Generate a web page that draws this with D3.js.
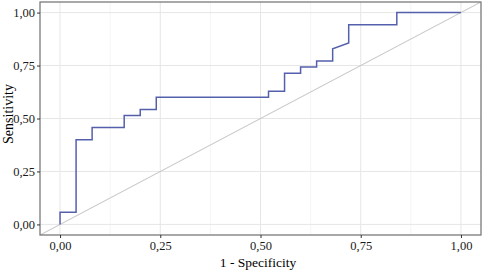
<!DOCTYPE html>
<html>
<head>
<meta charset="utf-8">
<script src="https://cdn.jsdelivr.net/npm/d3@7"></script>
<style>
  body { margin: 0; background: #fff; }
  svg { display: block; }
  text { font-family: "Liberation Serif", "DejaVu Serif", "Times New Roman", serif; }
</style>
</head>
<body>
<svg id="chart" width="484" height="273"></svg>
<script>
// ROC curve vertices (1 - specificity, sensitivity)
const fpr = [0, 0, 0.04, 0.04, 0.08, 0.08, 0.16, 0.16, 0.20, 0.20, 0.24, 0.24,
             0.52, 0.52, 0.56, 0.56, 0.60, 0.60, 0.64, 0.64, 0.68, 0.68, 0.72, 0.72,
             0.84, 0.84, 1.00];
const tpr = [0, 0.057, 0.057, 0.400, 0.400, 0.457, 0.457, 0.514, 0.514, 0.543, 0.543, 0.600,
             0.600, 0.629, 0.629, 0.714, 0.714, 0.743, 0.743, 0.771, 0.771, 0.829, 0.857, 0.943,
             0.943, 1.000, 1.000];
const majorTicks = [0, 0.25, 0.5, 0.75, 1];
const minorTicks = [0.125, 0.375, 0.625, 0.875];

const svg = d3.select("#chart");
const panel = {left: 40, top: 2, right: 481, bottom: 235};
const serif = "'Liberation Serif', 'DejaVu Serif', serif";

const x = d3.scaleLinear().domain([-0.05, 1.05]).range([panel.left, panel.right]);
const y = d3.scaleLinear().domain([-0.05, 1.05]).range([panel.bottom, panel.top]);
const fmt = d => d3.format(".2f")(d).replace(".", ",");

// gridlines
svg.append("g").selectAll("line.minor")
    .data(minorTicks).enter().append("line")
    .attr("x1", d => x(d)).attr("x2", d => x(d))
    .attr("y1", panel.top).attr("y2", panel.bottom)
    .attr("stroke", "#f2f2f2").attr("stroke-width", 0.8);

svg.append("g").selectAll("line.vmajor")
    .data(majorTicks).enter().append("line")
    .attr("x1", d => x(d)).attr("x2", d => x(d))
    .attr("y1", panel.top).attr("y2", panel.bottom)
    .attr("stroke", "#e6e6e6").attr("stroke-width", 1);

svg.append("g").selectAll("line.hmajor")
    .data(majorTicks).enter().append("line")
    .attr("x1", panel.left).attr("x2", panel.right)
    .attr("y1", d => y(d)).attr("y2", d => y(d))
    .attr("stroke", "#e6e6e6").attr("stroke-width", 1);

// clip for the reference diagonal
svg.append("clipPath").attr("id", "clip")
  .append("rect")
    .attr("x", panel.left).attr("y", panel.top)
    .attr("width", panel.right - panel.left).attr("height", panel.bottom - panel.top);

svg.append("line")
    .attr("clip-path", "url(#clip)")
    .attr("x1", x(-0.05)).attr("y1", y(-0.05))
    .attr("x2", x(1.05)).attr("y2", y(1.05))
    .attr("stroke", "#c8c8c8").attr("stroke-width", 1.1);

// ROC line
const pts = fpr.map((f, i) => [f, tpr[i]]);
svg.append("path")
    .datum(pts)
    .attr("fill", "none")
    .attr("stroke", "#5560ad")
    .attr("stroke-width", 1.5)
    .attr("d", d3.line().x(d => x(d[0])).y(d => y(d[1])));

// panel border
svg.append("rect")
    .attr("x", panel.left).attr("y", panel.top)
    .attr("width", panel.right - panel.left).attr("height", panel.bottom - panel.top)
    .attr("fill", "none").attr("stroke", "#7a7a7a").attr("stroke-width", 1.3);

// axes
const xAxis = d3.axisBottom(x).tickValues(majorTicks).tickFormat(fmt).tickSizeInner(3).tickSizeOuter(0).tickPadding(3);
const yAxis = d3.axisLeft(y).tickValues(majorTicks).tickFormat(fmt).tickSizeInner(3).tickSizeOuter(0).tickPadding(2);

const gx = svg.append("g").attr("transform", `translate(0,${panel.bottom})`).call(xAxis);
const gy = svg.append("g").attr("transform", `translate(${panel.left},0)`).call(yAxis);
[gx, gy].forEach(g => {
    g.attr("font-family", serif).attr("font-size", 12.5);
    g.select(".domain").remove();
    g.selectAll(".tick line").attr("stroke", "#333");
    g.selectAll(".tick text").attr("fill", "#1a1a1a");
});

// axis titles
svg.append("text")
    .attr("x", 258)
    .attr("y", 267)
    .attr("text-anchor", "middle")
    .attr("font-family", serif)
    .attr("font-size", 13.5)
    .attr("fill", "#000")
    .text("1 - Specificity");

svg.append("text")
    .attr("transform", "translate(12.5,114) rotate(-90)")
    .attr("text-anchor", "middle")
    .attr("font-family", serif)
    .attr("font-size", 14)
    .attr("fill", "#000")
    .text("Sensitivity");
</script>
</body>
</html>
